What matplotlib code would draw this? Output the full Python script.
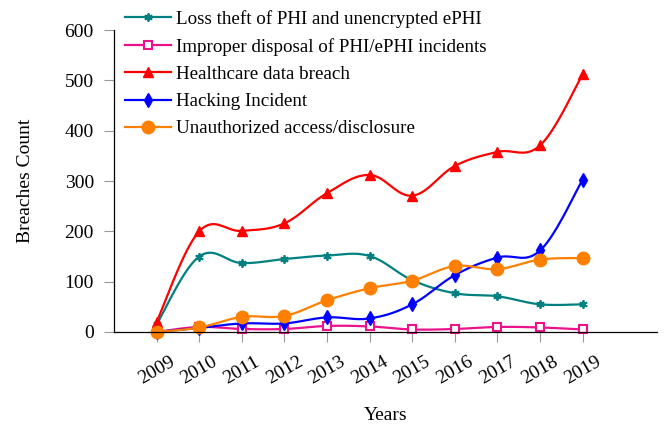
import numpy as np
import matplotlib
matplotlib.use("Agg")
import matplotlib.pyplot as plt

years = [2009, 2010, 2011, 2012, 2013, 2014, 2015, 2016, 2017, 2018, 2019]

loss_theft = [15, 150, 137, 145, 152, 151, 103, 77, 71, 55, 55]
improper_disposal = [0, 10, 6, 6, 12, 11, 5, 6, 10, 9, 5]
healthcare_breach = [20, 200, 201, 216, 276, 312, 271, 330, 358, 371, 512]
hacking = [0, 8, 17, 17, 29, 27, 55, 113, 148, 162, 303]
unauthorized = [0, 9, 30, 32, 63, 87, 102, 131, 125, 144, 147]

plt.rcParams['font.family'] = ['Liberation Serif', 'DejaVu Serif']
plt.rcParams['font.size'] = 14


def smooth(xs, ys, tension=0.55, n=20):
    # cubic bezier through the points, like pgfplots "smooth"
    p = np.column_stack([xs, ys]).astype(float)
    k = tension / 3.0
    out = [p[0]]
    for i in range(len(p) - 1):
        a, b = p[i], p[i + 1]
        prev = p[i - 1] if i > 0 else p[i]
        nxt = p[i + 2] if i + 2 < len(p) else p[i + 1]
        c1 = a + (b - prev) * k
        c2 = b - (nxt - a) * k
        t = np.linspace(0, 1, n + 1)[1:, None]
        seg = ((1 - t) ** 3) * a + 3 * ((1 - t) ** 2) * t * c1 \
            + 3 * (1 - t) * t ** 2 * c2 + t ** 3 * b
        out.extend(seg)
    out = np.array(out)
    return out[:, 0], out[:, 1], list(range(0, len(out), n))


fig = plt.figure(figsize=(6.65, 4.24), dpi=100)
ax = fig.add_axes([0.1714, 0.217, 0.817, 0.712])

series = [
    ("Loss theft of PHI and unencrypted ePHI", loss_theft, '#008080',
     dict(marker=(6, 2, 0), markersize=6, markeredgewidth=1.3)),
    ("Improper disposal of PHI/ePHI incidents", improper_disposal, '#EC128C',
     dict(marker='s', markersize=6, markerfacecolor='white', markeredgewidth=1.5)),
    ("Healthcare data breach", healthcare_breach, '#FF0000',
     dict(marker='^', markersize=7)),
    ("Hacking Incident", hacking, '#0000FF',
     dict(marker='d', markersize=7)),
    ("Unauthorized access/disclosure", unauthorized, '#FF8000',
     dict(marker='o', markersize=9)),
]

for label, vals, color, mk in series:
    sx, sy, idx = smooth(years, vals)
    ax.plot(sx, sy, color=color, lw=1.6, markevery=idx, label=label,
            markeredgecolor=color, clip_on=False, **mk)

ax.set_xlim(2008, 2020.75)
ax.set_ylim(0, 600)
ax.set_xticks(years)
ax.set_xticklabels([str(y) for y in years], rotation=30, ha='center')
ax.set_yticks(range(0, 601, 100))
ax.tick_params(axis='both', direction='out', length=7.5, width=0.8,
               color='#999999', labelsize=14)
ax.tick_params(axis='x', pad=8)
ax.tick_params(axis='y', pad=7)
ax.spines['top'].set_visible(False)
ax.spines['right'].set_visible(False)
ax.spines['left'].set_linewidth(0.9)
ax.spines['bottom'].set_linewidth(0.9)

ax.set_xlabel("Years", fontsize=14, labelpad=14)
ax.set_ylabel("Breaches Count", fontsize=14, labelpad=22)

fig.legend(loc='upper left', bbox_to_anchor=(0.188, 0.976), frameon=False,
           fontsize=13.7, handlelength=2.4, handletextpad=0.3, labelspacing=0.52,
           borderpad=0, borderaxespad=0)

fig.savefig("out.png", dpi=100)
